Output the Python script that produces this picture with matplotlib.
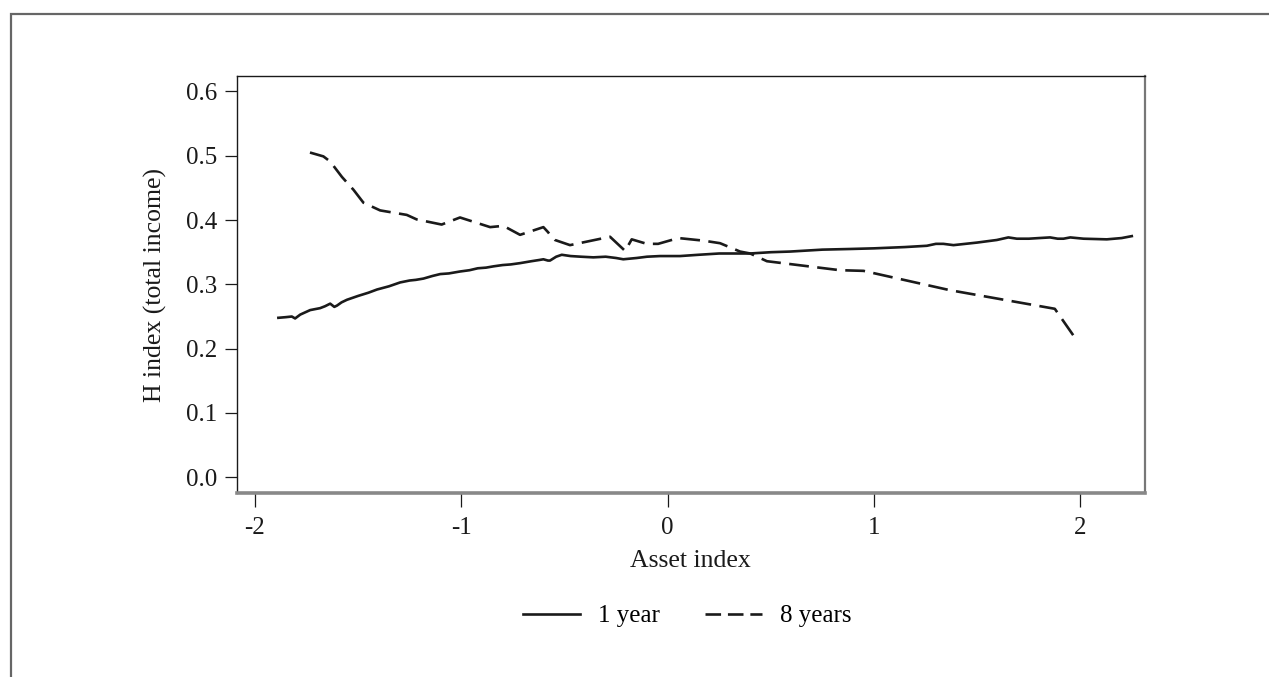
import matplotlib
matplotlib.use("Agg")
import matplotlib.pyplot as plt
from matplotlib.patches import Rectangle
from matplotlib.lines import Line2D

plt.rcParams['font.family'] = ['Liberation Serif', 'DejaVu Serif']

# 1 year series
x_1yr = [-1.886, -1.850, -1.821, -1.805, -1.780, -1.732, -1.700, -1.684, -1.660, -1.635,
         -1.615, -1.602, -1.580, -1.554, -1.500, -1.450, -1.408, -1.350, -1.296, -1.250,
         -1.220, -1.183, -1.140, -1.102, -1.060, -1.006, -0.960, -0.920, -0.880, -0.844,
         -0.800, -0.760, -0.715, -0.660, -0.620, -0.602, -0.580, -0.570, -0.540, -0.513,
         -0.470, -0.420, -0.360, -0.300, -0.250, -0.215, -0.150, -0.100, -0.037, 0.060,
         0.150, 0.250, 0.399, 0.500, 0.593, 0.750, 0.884, 1.000, 1.150, 1.256,
         1.300, 1.336, 1.385, 1.500, 1.595, 1.651, 1.692, 1.750, 1.800, 1.853,
         1.890, 1.918, 1.951, 2.015, 2.128, 2.200, 2.249]
y_1yr = [0.248, 0.249, 0.250, 0.247, 0.253, 0.260, 0.262, 0.263, 0.266, 0.270,
         0.265, 0.267, 0.272, 0.276, 0.282, 0.287, 0.292, 0.297, 0.303, 0.306,
         0.307, 0.309, 0.313, 0.316, 0.317, 0.320, 0.322, 0.325, 0.326, 0.328,
         0.330, 0.331, 0.333, 0.336, 0.338, 0.339, 0.337, 0.337, 0.343, 0.346,
         0.344, 0.343, 0.342, 0.343, 0.341, 0.339, 0.341, 0.343, 0.344, 0.344,
         0.346, 0.348, 0.348, 0.350, 0.351, 0.354, 0.355, 0.356, 0.358, 0.360,
         0.363, 0.363, 0.361, 0.365, 0.369, 0.373, 0.371, 0.371, 0.372, 0.373,
         0.371, 0.371, 0.373, 0.371, 0.370, 0.372, 0.375]

# 8 years series
x_8yr = [-1.733, -1.668, -1.635, -1.578, -1.522, -1.474, -1.393, -1.264, -1.216, -1.095,
         -1.006, -0.860, -0.796, -0.715, -0.602, -0.579, -0.570, -0.546, -0.473, -0.279,
         -0.206, -0.174, -0.101, -0.046, 0.052, 0.173, 0.254, 0.351, 0.400, 0.481,
         0.835, 0.949, 1.367, 1.876, 1.965]
y_8yr = [0.505, 0.499, 0.491, 0.467, 0.447, 0.427, 0.415, 0.408, 0.401, 0.393,
         0.404, 0.389, 0.391, 0.377, 0.389, 0.381, 0.377, 0.369, 0.361, 0.374,
         0.352, 0.370, 0.363, 0.363, 0.372, 0.368, 0.364, 0.351, 0.348, 0.336,
         0.322, 0.321, 0.291, 0.262, 0.221]

series_labels = ['1 year', '8 years']
x_ticks = [-2, -1, 0, 1, 2]
x_ticklabels = ['-2', '-1', '0', '1', '2']
y_ticks = [0.0, 0.1, 0.2, 0.3, 0.4, 0.5, 0.6]
y_ticklabels = ['0.0', '0.1', '0.2', '0.3', '0.4', '0.5', '0.6']

W, H = 1269, 677
fig = plt.figure(figsize=(W / 100, H / 100), dpi=100)
fig.patch.set_facecolor('white')

# outer frame (extends beyond right and bottom edges)
frame = Rectangle((11 / W, -0.2), 1.5, 1 - 14 / H + 0.2, transform=fig.transFigure,
                  fill=False, edgecolor='#666666', linewidth=1.6, clip_on=False)
fig.add_artist(frame)

left, right, top, bottom = 236.7, 1145, 76, 493.3
ax = fig.add_axes([left / W, 1 - bottom / H, (right - left) / W, (bottom - top) / H])

lw = 1.9
ink = '#1a1a1a'
ax.plot(x_1yr, y_1yr, color=ink, linewidth=lw, solid_joinstyle='round')
ax.plot(x_8yr, y_8yr, color=ink, linewidth=lw, linestyle=(0, (7.5, 3.2)))

ax.set_xlim(-2.088, 2.313)
ax.set_ylim(-0.0249, 0.624)
ax.set_xticks(x_ticks)
ax.set_xticklabels(x_ticklabels)
ax.set_yticks(y_ticks)
ax.set_yticklabels(y_ticklabels)

ax.tick_params(axis='y', direction='out', length=9, width=0.9, pad=5, labelsize=18, colors=ink)
ax.tick_params(axis='x', direction='out', length=10, width=0.9, pad=7, labelsize=18, colors=ink)

for s in ['left', 'top']:
    ax.spines[s].set_color(ink)
    ax.spines[s].set_linewidth(1.0)
ax.spines['right'].set_color('#777777')
ax.spines['right'].set_linewidth(1.6)
ax.spines['bottom'].set_color('#888888')
ax.spines['bottom'].set_linewidth(2.6)

ax.set_xlabel('Asset index', fontsize=18.5, color=ink, labelpad=8)
ax.set_ylabel('H index (total income)', fontsize=18.5, color=ink, labelpad=14)

handles = [Line2D([], [], color=ink, linewidth=lw),
           Line2D([], [], color=ink, linewidth=lw, linestyle=(0, (5.9, 2.6)))]
fig.legend(handles, series_labels, loc='center', bbox_to_anchor=(687 / W, 1 - 616 / H), ncol=2,
           frameon=False, fontsize=18, handlelength=2.3, handletextpad=0.7, columnspacing=1.8)

fig.savefig('out.png', dpi=100, facecolor='white')
